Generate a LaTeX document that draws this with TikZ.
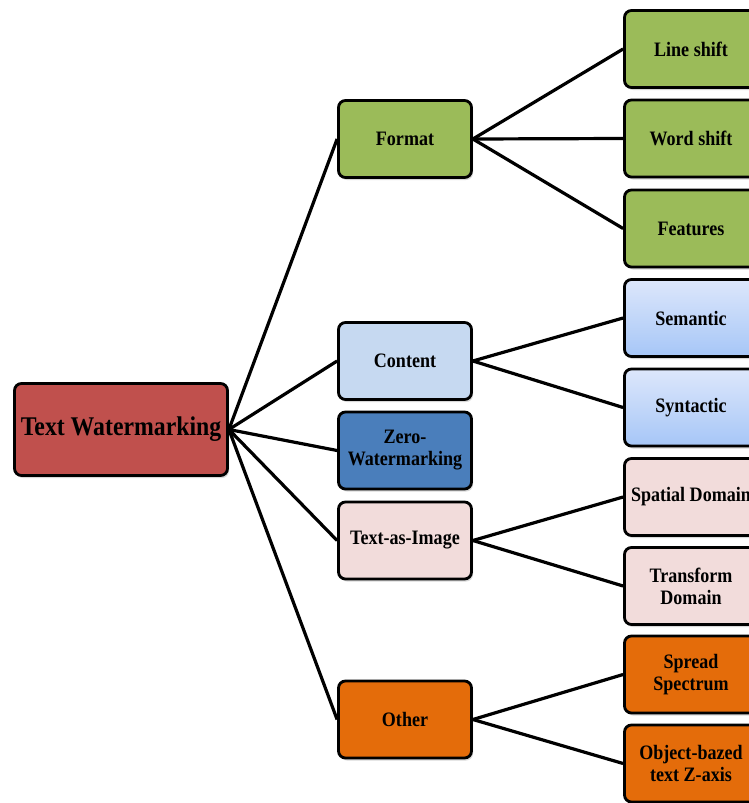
\documentclass[tikz,border=0pt]{standalone}
\usepackage{fontspec}
\setmainfont{Liberation Serif}[FakeStretch=0.88]
\usetikzlibrary{shadows}
\definecolor{rootred}{HTML}{C0504D}
\definecolor{fgreen}{HTML}{9BBB59}
\definecolor{cblue}{HTML}{C6D9F1}
\definecolor{zblue}{HTML}{4A7EBB}
\definecolor{ipink}{HTML}{F2DCDB}
\definecolor{oorange}{HTML}{E46C0A}
\definecolor{gtop}{HTML}{DDE7FB}
\definecolor{gbot}{HTML}{A6C6F7}
\begin{document}
\begin{tikzpicture}[x=1pt,y=-1pt,
  box/.style={draw=black, line width=2.8pt, rounded corners=7pt,
    minimum width=133pt, minimum height=77pt, align=center, inner sep=2pt,
    font=\bfseries\fontsize{20.5}{22}\selectfont,
    drop shadow={shadow xshift=1.5pt, shadow yshift=-2.5pt, opacity=0.3}},
  rootbox/.style={box, minimum width=213pt, minimum height=92pt,
    font=\bfseries\fontsize{27}{29}\selectfont},
  gbox/.style={box, top color=gtop, bottom color=gbot},
  link/.style={line width=3.2pt}]
\clip (0,0) rectangle (749,803);
\fill[white] (0,0) rectangle (749,803);
% root
\node[rootbox, fill=rootred] (root) at (121,429.5) {Text Watermarking};
% middle column
\node[box, fill=fgreen] (format) at (405,139) {Format};
\node[box, fill=cblue] (content) at (405,361) {Content};
\node[box, fill=zblue] (zero) at (405,450.5) {Zero-\\Watermarking};
\node[box, fill=ipink] (image) at (405,540.5) {Text-as-Image};
\node[box, fill=oorange] (other) at (405,719.5) {Other};
% right column
\node[box, fill=fgreen] (line) at (691,49) {Line shift};
\node[box, fill=fgreen] (word) at (691,138.5) {Word shift};
\node[box, fill=fgreen] (feat) at (691,228.5) {Features};
\node[gbox] (sem) at (691,318) {Semantic};
\node[gbox] (syn) at (691,407.5) {Syntactic};
\node[box, fill=ipink] (spat) at (691,497) {Spatial Domain};
\node[box, fill=ipink] (trans) at (691,586) {Transform\\Domain};
\node[box, fill=oorange] (spread) at (691,674.5) {Spread\\Spectrum};
\node[box, fill=oorange] (obj) at (691,763.5) {Object-bazed\\text Z-axis};
% connectors
\foreach \m in {format,content,zero,image,other}
  \draw[link] (root.east) -- (\m.west);
\foreach \c in {line,word,feat}
  \draw[link] (format.east) -- (\c.west);
\foreach \c in {sem,syn}
  \draw[link] (content.east) -- (\c.west);
\foreach \c in {spat,trans}
  \draw[link] (image.east) -- (\c.west);
\foreach \c in {spread,obj}
  \draw[link] (other.east) -- (\c.west);
\end{tikzpicture}
\end{document}
